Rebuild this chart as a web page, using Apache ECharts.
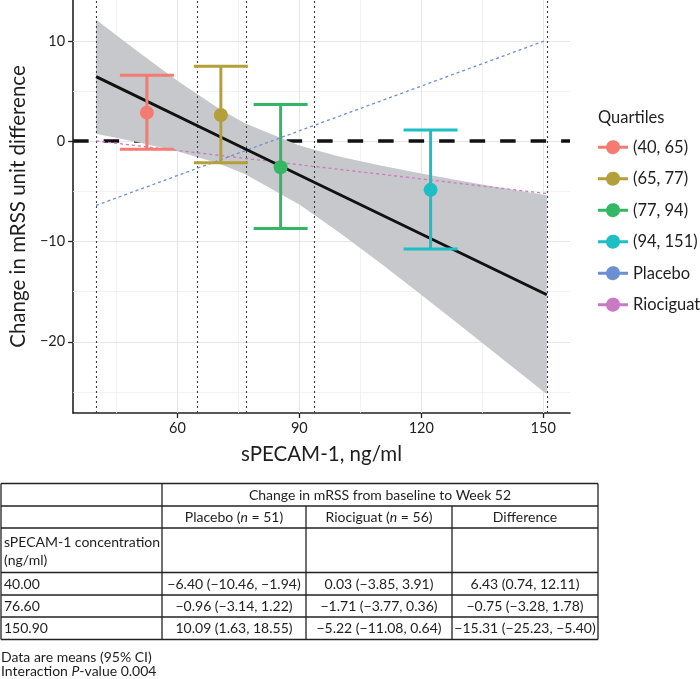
<!DOCTYPE html>
<html><head><meta charset="utf-8">
<script src="https://cdn.jsdelivr.net/npm/echarts@6/dist/echarts.min.js"></script>
<style>html,body{margin:0;padding:0;background:#fff}#c{width:700px;height:679px}</style>
</head><body><div id="c"></div>
<script>
// ---------------- data ----------------
const quartileNames = ['(40, 65)', '(65, 77)', '(77, 94)', '(94, 151)'];
const quartileX = [52.5, 70.7, 85.4, 122.3];
const quartileMean = [2.85, 2.62, -2.59, -4.85];
const quartileLow = [-0.80, -2.16, -8.71, -10.76];
const quartileHigh = [6.58, 7.47, 3.65, 1.13];
const cutPoints = [40, 65, 77, 93.6, 150.9];
const concX = [40, 76.6, 150.9];
const placeboY = [-6.40, -0.96, 10.09];
const riociguatY = [0.03, -1.71, -5.22];
const diffY = [6.43, -0.75, -15.31];
const bandX = [40, 50, 60, 70, 76.6, 90, 100, 110, 120, 130, 140, 150.9];
const bandUpper = [12.11, 9.01, 6.02, 3.31, 1.78, -0.44, -1.54, -2.43, -3.22, -3.96, -4.66, -5.40];
const bandLower = [0.74, -0.07, -1.00, -2.21, -3.28, -6.32, -9.14, -12.17, -15.32, -18.50, -21.72, -25.23];
const yTicks = [-20, -10, 0, 10];
const yMinor = [-25, -15, -5, 5];
const xTicks = [60, 90, 120, 150];
const xMinor = [45, 75, 105, 135];
const treatmentNames = ['Placebo', 'Riociguat'];
const tableTitle = 'Change in mRSS from baseline to Week 52';
const tableColHeads = ['Placebo ({i|n} = 51)', 'Riociguat ({i|n} = 56)', 'Difference'];
const tableRowHead = ['sPECAM-1 concentration', '(ng/ml)'];
const tableRowLabels = ['40.00', '76.60', '150.90'];
const placeboCells = ['\u22126.40 (\u221210.46, \u22121.94)', '\u22120.96 (\u22123.14, 1.22)', '10.09 (1.63, 18.55)'];
const riociguatCells = ['0.03 (\u22123.85, 3.91)', '\u22121.71 (\u22123.77, 0.36)', '\u22125.22 (\u221211.08, 0.64)'];
const differenceCells = ['6.43 (0.74, 12.11)', '\u22120.75 (\u22123.28, 1.78)', '\u221215.31 (\u221225.23, \u22125.40)'];
const footnotes = ['Data are means (95% CI)', 'Interaction {i|P}-value 0.004'];

// ---------------- styles ----------------
const FONT = 'Lato';
const quartileColors = ['#F47A72', '#B59F3A', '#35B665', '#1DBEC4'];
const treatColors = ['#6C8FD4', '#C97AC2'];
const TXT = '#1e1e1e';

const chart = echarts.init(document.getElementById('c'), null, {renderer: 'canvas'});

function errorBar(i) {
  return {
    type: 'custom', name: quartileNames[i], z: 7,
    itemStyle: {color: quartileColors[i]},
    data: [[quartileX[i], quartileMean[i], quartileLow[i], quartileHigh[i]]],
    encode: {x: 0, y: [1, 2, 3]},
    renderItem: function (params, api) {
      const x = api.value(0);
      const top = api.coord([x, api.value(3)]);
      const bot = api.coord([x, api.value(2)]);
      const mid = api.coord([x, api.value(1)]);
      const hw = 27, c = quartileColors[i], lw = 3;
      return {type: 'group', children: [
        {type: 'line', shape: {x1: top[0], y1: top[1], x2: bot[0], y2: bot[1]}, style: {stroke: c, lineWidth: lw}},
        {type: 'line', shape: {x1: top[0] - hw, y1: top[1], x2: top[0] + hw, y2: top[1]}, style: {stroke: c, lineWidth: lw}},
        {type: 'line', shape: {x1: bot[0] - hw, y1: bot[1], x2: bot[0] + hw, y2: bot[1]}, style: {stroke: c, lineWidth: lw}},
        {type: 'circle', shape: {cx: mid[0], cy: mid[1], r: 7}, style: {fill: c}}
      ]};
    }
  };
}

function gl(key, v, color, width) {
  const o = {lineStyle: {color: color, width: width, type: 'solid'}};
  o[key] = v;
  return o;
}
const gridLines = []
  .concat(yMinor.map(v => gl('yAxis', v, '#EFEFEF', 0.8)))
  .concat(xMinor.map(v => gl('xAxis', v, '#EFEFEF', 0.8)))
  .concat(yTicks.map(v => gl('yAxis', v, '#E6E6E6', 1)))
  .concat(xTicks.map(v => gl('xAxis', v, '#E6E6E6', 1)));

const markBase = {silent: true, symbol: ['none', 'none'], label: {show: false}, animation: false, emphasis: {disabled: true}};

const series = [
  {type: 'line', name: 'grid', data: [], z: 1,
    markLine: Object.assign({}, markBase, {z: 1, data: gridLines})},
  {type: 'line', name: 'zero', data: [], z: 2,
    markLine: Object.assign({}, markBase, {z: 2, data: [{yAxis: 0}],
      lineStyle: {color: '#111', width: 3.5, type: [15.5, 15]}})},
  {type: 'custom', name: 'band', z: 3, silent: true,
    data: [[bandX[0], bandUpper[0]]],
    renderItem: function (params, api) {
      const pts = [];
      for (let k = 0; k < bandX.length; k++) pts.push(api.coord([bandX[k], bandUpper[k]]));
      for (let k = bandX.length - 1; k >= 0; k--) pts.push(api.coord([bandX[k], bandLower[k]]));
      return {type: 'polygon', shape: {points: pts}, style: {fill: '#C6C8CC'}};
    }},
  {type: 'line', name: 'cuts', data: [], z: 4,
    markLine: Object.assign({}, markBase, {z: 4, data: cutPoints.map(v => ({xAxis: v})),
      lineStyle: {color: '#3a3a3a', width: 1.1, type: [2, 3]}})},
  {type: 'line', name: treatmentNames[0], z: 5, showSymbol: false, symbol: 'none',
    data: concX.map((x, k) => [x, placeboY[k]]),
    itemStyle: {color: treatColors[0]},
    lineStyle: {color: treatColors[0], width: 1.3, type: [3, 3]}},
  {type: 'line', name: treatmentNames[1], z: 5, showSymbol: false, symbol: 'none',
    data: concX.map((x, k) => [x, riociguatY[k]]),
    itemStyle: {color: treatColors[1]},
    lineStyle: {color: treatColors[1], width: 1.3, type: [3, 3]}},
  {type: 'line', name: 'Difference', z: 6, showSymbol: false, symbol: 'none',
    data: concX.map((x, k) => [x, diffY[k]]),
    lineStyle: {color: '#111', width: 3}}
].concat([0, 1, 2, 3].map(errorBar));

// ---------------- table as graphic ----------------
const colX = [1, 162, 306, 452, 598];
const rowY = [483.5, 506, 528, 572.5, 595, 617, 639.5];
const g = [];
const LS = {stroke: '#222', lineWidth: 1.3};
rowY.forEach(y => g.push({type: 'line', shape: {x1: colX[0], y1: y, x2: colX[4], y2: y}, style: LS}));
[0, 1, 4].forEach(c => g.push({type: 'line', shape: {x1: colX[c], y1: rowY[0], x2: colX[c], y2: rowY[6]}, style: LS}));
[2, 3].forEach(c => g.push({type: 'line', shape: {x1: colX[c], y1: rowY[1], x2: colX[c], y2: rowY[6]}, style: LS}));
const TF = '14px ' + FONT;
const rich = {i: {font: 'italic 14px ' + FONT, fill: TXT}};
function txt(s, x, y, align) {
  g.push({type: 'text', style: {text: s, x: x, y: y, font: TF, fill: TXT, align: align || 'center', verticalAlign: 'middle', rich: rich}});
}
txt(tableTitle, (colX[1] + colX[4]) / 2, 495);
tableColHeads.forEach((s, k) => txt(s, (colX[k + 1] + colX[k + 2]) / 2, 517.5));
txt(tableRowHead[0], 4, 542, 'left');
txt(tableRowHead[1], 4, 560, 'left');
const rowCenters = [584, 606, 628];
tableRowLabels.forEach((s, r) => {
  txt(s, 4, rowCenters[r], 'left');
  txt(placeboCells[r], (colX[1] + colX[2]) / 2, rowCenters[r]);
  txt(riociguatCells[r], (colX[2] + colX[3]) / 2, rowCenters[r]);
  txt(differenceCells[r], (colX[3] + colX[4]) / 2, rowCenters[r]);
});
txt(footnotes[0], 1, 657, 'left');
txt(footnotes[1], 1, 671, 'left');

const minusFmt = v => (v < 0 ? '\u2212' + Math.abs(v) : String(v));

chart.setOption({
  animation: false,
  backgroundColor: '#fff',
  textStyle: {fontFamily: FONT},
  title: {text: 'Quartiles', left: 598, top: 108, padding: 0,
    textStyle: {fontSize: 16.5, fontWeight: 'normal', color: TXT, fontFamily: FONT, lineHeight: 20}},
  legend: {
    data: quartileNames.concat(treatmentNames),
    orient: 'vertical', left: 598, top: 138.7, padding: 0,
    icon: 'path://M0,5.5H8.163A7,7,0,0,1,21.837,5.5H30V8.5H21.837A7,7,0,0,1,8.163,8.5H0Z',
    itemWidth: 30, itemHeight: 14, itemGap: 14.5, selectedMode: false,
    itemStyle: {borderWidth: 0},
    lineStyle: {width: 0},
    textStyle: {fontSize: 16.5, color: TXT, fontFamily: FONT, lineHeight: 14}
  },
  grid: {left: 65, right: 130, top: 0, bottom: 266},
  xAxis: {
    type: 'value', min: 34.35, max: 156.6,
    axisLine: {show: true, onZero: false, lineStyle: {color: '#222', width: 1.6}},
    axisTick: {show: true, length: 5, customValues: xTicks, lineStyle: {color: '#222', width: 1.3}},
    axisLabel: {customValues: xTicks, margin: 8, fontSize: 14.5, color: TXT, fontFamily: FONT},
    splitLine: {show: false},
    name: 'sPECAM-1, ng/ml', nameLocation: 'middle', nameGap: 31,
    nameTextStyle: {fontSize: 20.5, color: TXT, fontFamily: FONT}
  },
  yAxis: {
    type: 'value', min: -27.1, max: 14.08,
    axisLine: {show: true, onZero: false, lineStyle: {color: '#222', width: 1.6}},
    axisTick: {show: true, length: 5, customValues: yTicks, lineStyle: {color: '#222', width: 1.3}},
    axisLabel: {customValues: yTicks, margin: 8, fontSize: 14.5, color: TXT, fontFamily: FONT, formatter: minusFmt},
    splitLine: {show: false},
    name: 'Change in mRSS unit difference', nameLocation: 'middle', nameGap: 44, nameRotate: 90,
    nameTextStyle: {fontSize: 20.5, color: TXT, fontFamily: FONT}
  },
  graphic: g,
  series: series
});
</script></body></html>
